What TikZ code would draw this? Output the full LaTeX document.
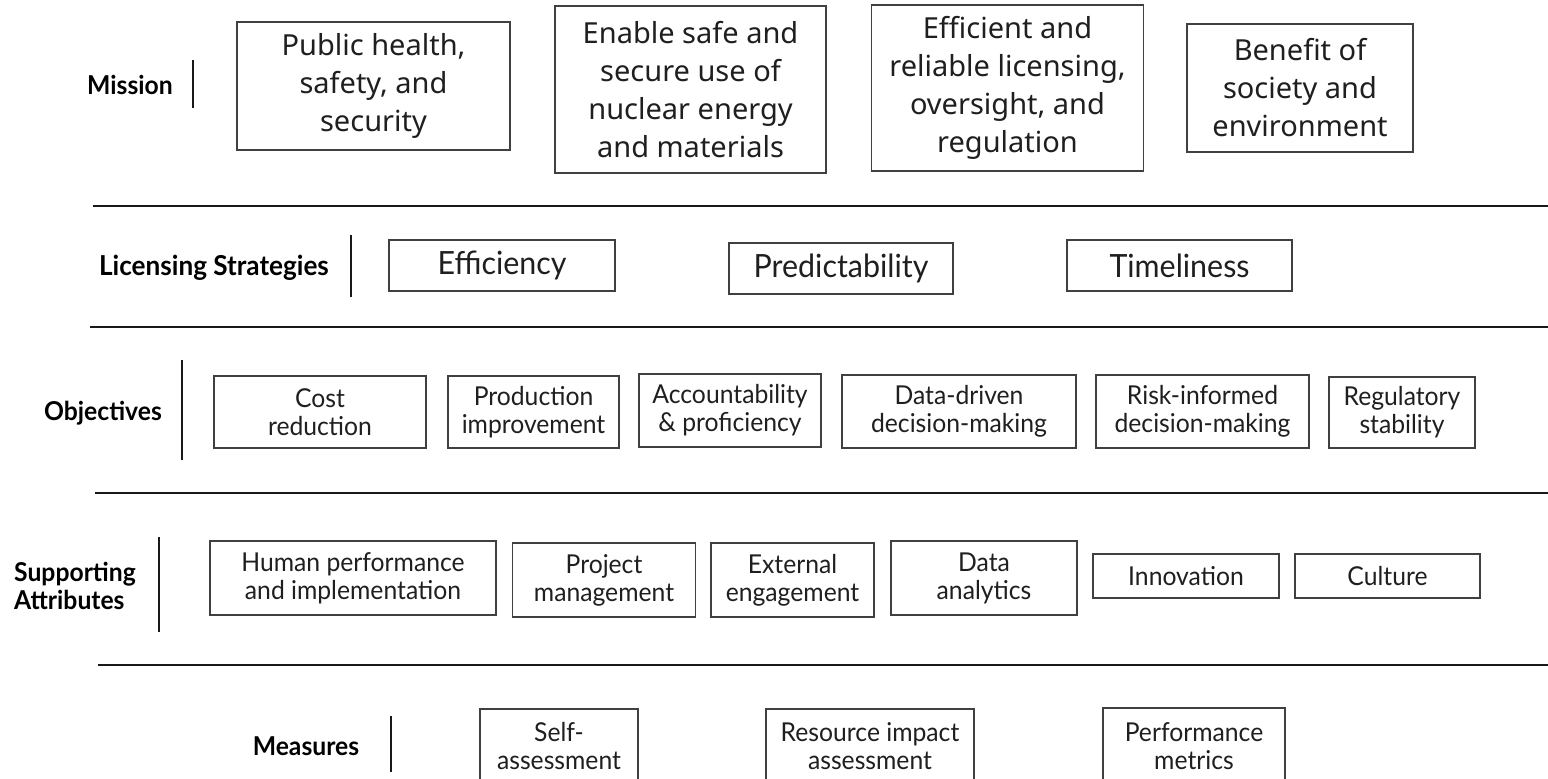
\documentclass[tikz,border=0pt]{standalone}
\usepackage{fontspec}
\setmainfont{Lato}
\newfontfamily\missionfont{Noto Sans}
\newfontfamily\narrowfont[FakeStretch=0.95]{Lato}
\begin{document}
\begin{tikzpicture}[x=1pt,y=-1pt,
  box/.style={draw=black!75, line width=1.3pt, align=center, inner sep=0pt, text=black!88},
  mbox/.style={box, font=\missionfont\fontsize{29}{38}\selectfont},
  lbox/.style={box, font=\narrowfont\fontsize{32}{36}\selectfont},
  obox/.style={box, font=\narrowfont\fontsize{26}{28}\selectfont},
  rowlabel/.style={font=\narrowfont\bfseries\fontsize{26}{27.5}\selectfont, inner sep=0pt, align=left},
  sep/.style={line width=2.6pt, black!90},
  bar/.style={line width=2.2pt, black!90}]
\clip (0,0) rectangle (1548,779);
\fill[white] (0,0) rectangle (1548,779);

% separators
\draw[sep] (93,206) -- (1548,206);
\draw[sep] (90,327) -- (1548,327);
\draw[sep] (95,493) -- (1548,493);
\draw[sep] (98,665) -- (1548,665);

% Mission row
\node[rowlabel] (mlab) at (130,85) {Mission};
\draw[bar] (193,60) -- (193,108);
\node[mbox, minimum width=273, minimum height=128] (m1) at (373.5,86) {Public health,\\safety, and\\security};
\node[mbox, minimum width=271, minimum height=167] (m2) at (690.5,89.5) {Enable safe and\\secure use of\\nuclear energy\\and materials};
\node[mbox, minimum width=272, minimum height=166] (m3) at (1007.5,88) {Efficient and\\reliable licensing,\\oversight, and\\regulation};
\node[mbox, minimum width=226, minimum height=128] (m4) at (1300,88) {Benefit of\\society and\\environment};

% Licensing strategies row
\node[rowlabel, font=\narrowfont\bfseries\fontsize{27.5}{30}\selectfont] (llab) at (214,268) {Licensing Strategies};
\draw[bar] (351,235) -- (351,297);
\node[lbox, minimum width=226, minimum height=51] (l1) at (502,265.5) {Efficiency};
\node[lbox, minimum width=224, minimum height=51] (l2) at (841,268.5) {Predictability};
\node[lbox, minimum width=225, minimum height=51] (l3) at (1179.5,265.5) {Timeliness};

% Objectives row
\node[rowlabel] (olab) at (103,413) {Objectives};
\draw[bar] (182,360) -- (182,460);
\node[obox, minimum width=212, minimum height=72] (o1) at (320,412) {Cost\\reduction};
\node[obox, minimum width=171, minimum height=72] (o2) at (533.5,412) {Production\\improvement};
\node[obox, minimum width=182, minimum height=73] (o3) at (730,410.5) {Accountability\\\& proficiency};
\node[obox, minimum width=234, minimum height=73] (o4) at (959,411.5) {Data-driven\\decision-making};
\node[obox, minimum width=213, minimum height=73] (o5) at (1202.5,411.5) {Risk-informed\\decision-making};
\node[obox, minimum width=146, minimum height=71] (o6) at (1402,412.5) {Regulatory\\stability};

% Supporting attributes row
\node[rowlabel, anchor=west] (slab) at (14,586) {Supporting\\Attributes};
\draw[bar] (159,537) -- (159,632);
\node[obox, minimum width=286, minimum height=74] (s1) at (353,578) {Human performance\\and implementation};
\node[obox, minimum width=183, minimum height=74] (s2) at (604,580) {Project\\management};
\node[obox, minimum width=163, minimum height=74] (s3) at (792.5,580) {External\\engagement};
\node[obox, minimum width=186, minimum height=74] (s4) at (984,578) {Data\\analytics};
\node[obox, minimum width=186, minimum height=44] (s5) at (1186,576) {Innovation};
\node[obox, minimum width=185, minimum height=44] (s6) at (1387.5,576) {Culture};

% Measures row
\node[rowlabel] (mslab) at (306,746) {Measures};
\draw[bar] (391,716) -- (391,772);
\node[obox, minimum width=158, minimum height=74] (ms1) at (559,746) {Self-\\assessment};
\node[obox, minimum width=208, minimum height=74] (ms2) at (870,746) {Resource impact\\assessment};
\node[obox, minimum width=182, minimum height=76] (ms3) at (1194,746) {Performance\\metrics};
\end{tikzpicture}
\end{document}
